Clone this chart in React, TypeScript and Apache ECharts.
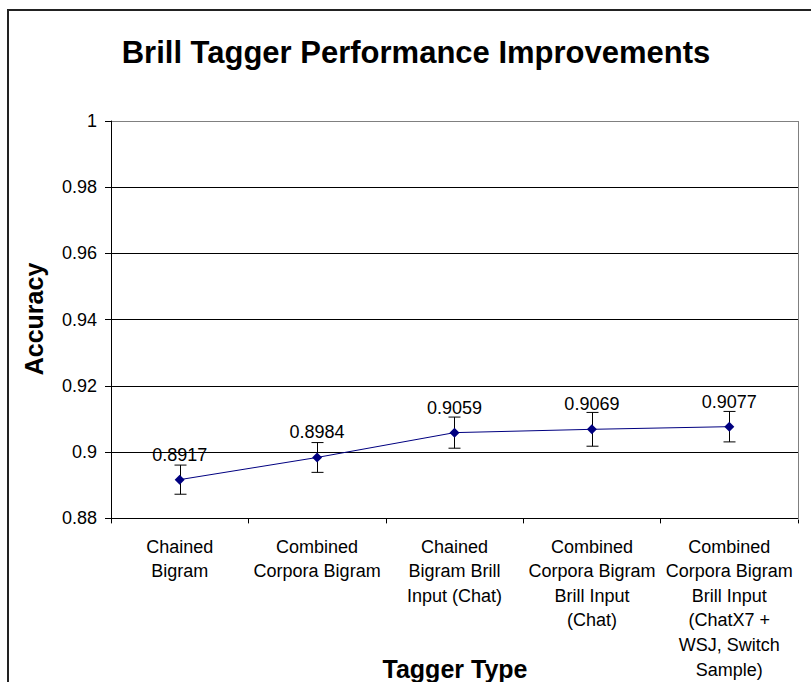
import React, { useEffect, useRef } from "react";
import * as echarts from "echarts";

const categories = [
  "Chained\nBigram",
  "Combined\nCorpora Bigram",
  "Chained\nBigram Brill\nInput (Chat)",
  "Combined\nCorpora Bigram\nBrill Input\n(Chat)",
  "Combined\nCorpora Bigram\nBrill Input\n(ChatX7 +\nWSJ, Switch\nSample)",
];
const accuracy = [0.8917, 0.8984, 0.9059, 0.9069, 0.9077];
const errorMargin = [0.0044, 0.0045, 0.0047, 0.0051, 0.0046];
const yMin = 0.88;
const yMax = 1;
const yStep = 0.02;

const chartTitle = "Brill Tagger Performance Improvements";
const xTitle = "Tagger Type";
const yTitle = "Accuracy";

const FONT = '"Liberation Sans", Arial, sans-serif';

export default function App() {
  const ref = useRef<HTMLDivElement>(null);
  useEffect(() => {
    if (!ref.current) return;
    const chart = echarts.init(ref.current, null, { renderer: "svg" });
    const errData = accuracy.map((v, i) => [i, v - errorMargin[i], v + errorMargin[i]]);
    chart.setOption({
      animation: false,
      backgroundColor: "#ffffff",
      textStyle: { fontFamily: FONT },
      grid: { left: 111, top: 121, width: 687, height: 399, show: false },
      graphic: [
        {
          type: "rect",
          shape: { x: 8, y: 10, width: 900, height: 900 },
          style: { fill: "none", stroke: "#222", lineWidth: 2 },
          silent: true,
          z: 100,
        },
        {
          type: "line",
          shape: { x1: 798.5, y1: 121, x2: 798.5, y2: 520 },
          style: { stroke: "#808080", lineWidth: 1 },
          z: 50,
        },
        {
          type: "text",
          x: 416,
          y: 52,
          style: {
            text: chartTitle,
            font: `bold 31px ${FONT}`,
            fill: "#000",
            textAlign: "center",
            textVerticalAlign: "middle",
            align: "center",
            verticalAlign: "middle",
          },
        },
        {
          type: "text",
          x: 455,
          y: 669,
          style: {
            text: xTitle,
            font: `bold 25px ${FONT}`,
            fill: "#000",
            textAlign: "center",
            textVerticalAlign: "middle",
            align: "center",
            verticalAlign: "middle",
          },
        },
        {
          type: "text",
          x: 34,
          y: 319,
          rotation: Math.PI / 2,
          style: {
            text: yTitle,
            font: `bold 25px ${FONT}`,
            fill: "#000",
            textAlign: "center",
            textVerticalAlign: "middle",
            align: "center",
            verticalAlign: "middle",
          },
        },
      ],
      xAxis: {
        type: "category",
        data: categories,
        boundaryGap: true,
        axisLine: { show: true, lineStyle: { color: "#000", width: 1 } },
        axisTick: { show: true, length: 5, inside: false, alignWithLabel: false, lineStyle: { color: "#000" } },
        axisLabel: {
          interval: 0,
          margin: 16,
          fontSize: 18,
          lineHeight: 24.6,
          color: "#000",
          fontFamily: FONT,
          align: "center",
        },
        splitLine: { show: false },
      },
      yAxis: {
        type: "value",
        min: yMin,
        max: yMax,
        interval: yStep,
        axisLine: { show: true, lineStyle: { color: "#000", width: 1 } },
        axisTick: { show: true, length: 6, inside: false, lineStyle: { color: "#000" } },
        axisLabel: {
          margin: 14,
          fontSize: 18,
          color: "#000",
          fontFamily: FONT,
          formatter: (v: number) => String(+v.toFixed(2)),
        },
        splitLine: {
          show: true,
          lineStyle: {
            color: ["#000", "#000", "#000", "#000", "#000", "#000", "#808080"],
            width: 1,
          },
        },
      },
      series: [
        {
          type: "custom",
          z: 3,
          data: errData,
          encode: { x: 0, y: [1, 2] },
          renderItem: (params: any, api: any) => {
            const x = api.value(0);
            const lo = api.value(1);
            const hi = api.value(2);
            const pTop = api.coord([x, hi]);
            const pBot = api.coord([x, lo]);
            const hw = 6;
            const cx = Math.round(pTop[0]) + 0.5;
            const st = { stroke: "#000", lineWidth: 1 };
            return {
              type: "group",
              children: [
                { type: "line", shape: { x1: cx, y1: pTop[1], x2: cx, y2: pBot[1] }, style: st },
                { type: "line", shape: { x1: cx - hw, y1: pTop[1], x2: cx + hw, y2: pTop[1] }, style: st },
                { type: "line", shape: { x1: cx - hw, y1: pBot[1], x2: cx + hw, y2: pBot[1] }, style: st },
              ],
            };
          },
        },
        {
          type: "line",
          z: 4,
          data: accuracy,
          symbol: "diamond",
          symbolSize: 10,
          lineStyle: { color: "#000080", width: 1 },
          itemStyle: { color: "#000080" },
          label: {
            show: true,
            position: "top",
            distance: 11,
            fontSize: 18,
            color: "#000",
            fontFamily: FONT,
            formatter: (p: any) => p.value.toFixed(4),
          },
        },
      ],
    });
    return () => chart.dispose();
  }, []);
  return (
    <div
      ref={ref}
      style={{ position: "fixed", left: 0, top: 0, width: 811, height: 682, background: "#fff" }}
    />
  );
}
